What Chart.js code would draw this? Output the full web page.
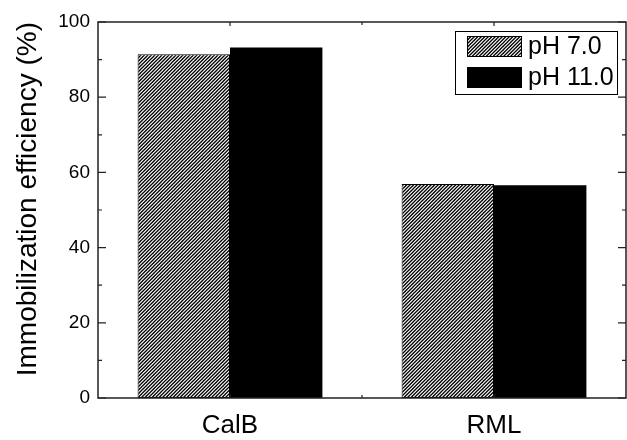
<!DOCTYPE html>
<html>
<head>
<meta charset="utf-8">
<script src="https://cdn.jsdelivr.net/npm/chart.js@4/dist/chart.umd.min.js"></script>
<style>
  html, body { margin: 0; padding: 0; background: #fff; }
  #wrap { width: 627px; height: 440px; position: relative; }
</style>
</head>
<body>
<div id="wrap"><canvas id="c" width="627" height="440"></canvas></div>
<script>
const categories = ["CalB", "RML"];
const seriesNames = ["pH 7.0", "pH 11.0"];
const ph7 = [91.4, 56.9];
const ph11 = [93.2, 56.6];
const yTicks = [0, 20, 40, 60, 80, 100];
const yMinorTicks = [10, 30, 50, 70, 90];
const yTitle = "Immobilization efficiency (%)";

function makeHatch() {
  const t = document.createElement('canvas');
  t.width = 7; t.height = 7;
  const g = t.getContext('2d');
  g.fillStyle = '#fff';
  g.fillRect(0, 0, 7, 7);
  g.strokeStyle = '#000';
  g.lineWidth = 1.3;
  g.beginPath();
  [-3.5, 0, 3.5, 7, 10.5, 14].forEach(c => {
    g.moveTo(c + 2, -2);
    g.lineTo(-2, c + 2);
  });
  g.stroke();
  return document.getElementById('c').getContext('2d').createPattern(t, 'repeat');
}
const hatch = makeHatch();

const frameTicks = {
  id: 'frameTicks',
  afterDatasetsDraw(chart) {
    const ctx = chart.ctx;
    const a = chart.chartArea;
    const ys = chart.scales.y, xs = chart.scales.x;
    ctx.save();
    ctx.strokeStyle = '#222';
    ctx.lineWidth = 1.5;
    ctx.beginPath();
    ctx.rect(a.left, a.top, a.right - a.left, a.bottom - a.top);
    ctx.stroke();
    ctx.lineWidth = 1.2;
    ctx.beginPath();
    yTicks.forEach(v => {
      const p = ys.getPixelForValue(v);
      ctx.moveTo(a.left, p); ctx.lineTo(a.left + 8, p);
      ctx.moveTo(a.right, p); ctx.lineTo(a.right - 8, p);
    });
    yMinorTicks.forEach(v => {
      const p = ys.getPixelForValue(v);
      ctx.moveTo(a.left, p); ctx.lineTo(a.left + 4, p);
      ctx.moveTo(a.right, p); ctx.lineTo(a.right - 4, p);
    });
    categories.forEach((c, i) => {
      const p = xs.getPixelForValue(i);
      ctx.moveTo(p, a.top); ctx.lineTo(p, a.top + 4);
      ctx.moveTo(p, a.bottom); ctx.lineTo(p, a.bottom - 4);
    });
    for (let i = 0; i < categories.length - 1; i++) {
      const p = (xs.getPixelForValue(i) + xs.getPixelForValue(i + 1)) / 2;
      ctx.moveTo(p, a.top); ctx.lineTo(p, a.top + 3);
      ctx.moveTo(p, a.bottom); ctx.lineTo(p, a.bottom - 3);
    }
    ctx.stroke();
    ctx.restore();
  }
};

new Chart(document.getElementById('c'), {
  type: 'bar',
  data: {
    labels: categories,
    datasets: [
      { label: seriesNames[0], data: ph7, backgroundColor: hatch, borderColor: '#000', borderWidth: 1,
        borderSkipped: false, barPercentage: 1.0, categoryPercentage: 0.7 },
      { label: seriesNames[1], data: ph11, backgroundColor: '#000', borderColor: '#000', borderWidth: 0,
        borderSkipped: false, barPercentage: 1.0, categoryPercentage: 0.7 }
    ]
  },
  options: {
    responsive: false,
    animation: false,
    devicePixelRatio: 1,
    layout: { padding: { left: 0, right: 1, top: 22, bottom: 0 } },
    plugins: {
      legend: { display: false },
      tooltip: { enabled: false }
    },
    scales: {
      x: {
        grid: { display: false, drawTicks: false },
        border: { display: false },
        ticks: { color: '#000', padding: 12, font: { family: 'Liberation Sans, Arial, sans-serif', size: 26 } },
        afterFit(s) { s.height = 42; }
      },
      y: {
        min: 0, max: 100,
        grid: { display: false, drawTicks: false },
        border: { display: false },
        ticks: { stepSize: 20, color: '#000', padding: 8, font: { family: 'Liberation Sans, Arial, sans-serif', size: 19 } },
        title: { display: true, text: yTitle, color: '#000', align: 'end', padding: { top: 11, bottom: 0 },
                 font: { family: 'Liberation Sans, Arial, sans-serif', size: 28, weight: 'normal' } },
        afterFit(s) { s.width = 98; }
      }
    }
  },
  plugins: [frameTicks, {
    id: 'legendBox',
    afterDraw(chart) {
      const ctx = chart.ctx;
      const a = chart.chartArea;
      const bx = a.right - 171, by = a.top + 9, bw = 162, bh = 63;
      ctx.save();
      ctx.fillStyle = '#fff';
      ctx.fillRect(bx, by, bw, bh);
      ctx.strokeStyle = '#000'; ctx.lineWidth = 1;
      ctx.strokeRect(bx + 0.5, by + 0.5, bw, bh);
      const ds = chart.data.datasets;
      ds.forEach((d, i) => {
        const sy = by + 5 + i * 31;
        ctx.fillStyle = d.backgroundColor;
        ctx.fillRect(bx + 12, sy, 55, 21);
        ctx.strokeStyle = '#000'; ctx.lineWidth = 1;
        ctx.strokeRect(bx + 12.5, sy + 0.5, 54, 20);
        ctx.fillStyle = '#000';
        ctx.font = '25px "Liberation Sans", Arial, sans-serif';
        ctx.textBaseline = 'middle';
        ctx.textAlign = 'left';
        ctx.fillText(d.label, bx + 73, sy + 11);
      });
      ctx.restore();
    }
  }]
});
</script>
</body>
</html>
